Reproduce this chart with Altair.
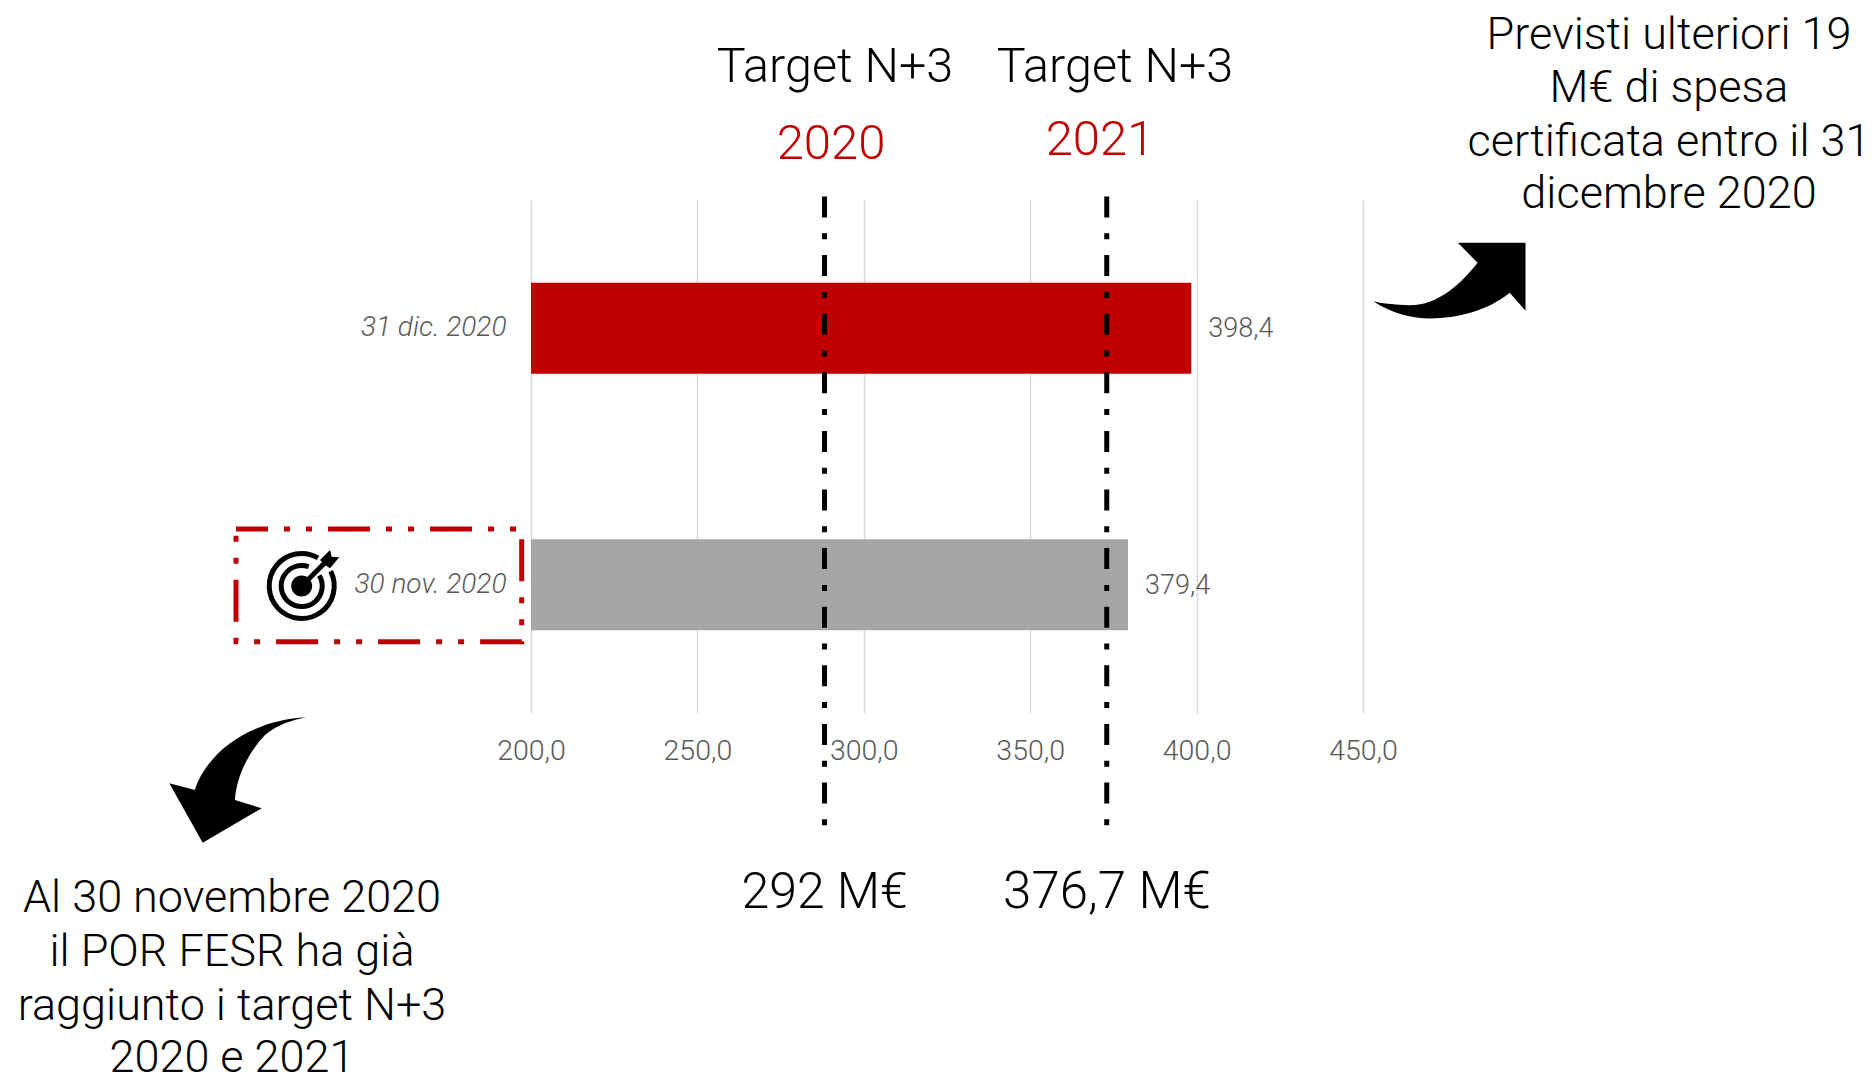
import math
import altair as alt
import pandas as pd

# ---- data ----
DATES = ["31 dic. 2020", "30 nov. 2020"]
VALUES = [398.4, 379.4]
VALUE_LABELS = ["398,4", "379,4"]
BAR_COLORS = ["#c00000", "#a6a6a6"]
TARGET_POSITIONS = [288.2, 373.0]
TARGET_YEARS = ["2020", "2021"]
TARGET_AMOUNTS = ["292 M€", "376,7 M€"]
TARGET_TITLE = "Target N+3"
NOTE_RIGHT = ["Previsti ulteriori 19", "M€ di spesa", "certificata entro il 31", "dicembre 2020"]
NOTE_LEFT = ["Al 30 novembre 2020", "il POR FESR ha già", "raggiunto i target N+3", "2020 e 2021"]

W, H = 832, 513
LEFT, TOP = 523, 192
OX, OY = LEFT + 8, TOP + 8   # page position of plot origin
BIG = "Roboto"
UI = "Roboto"
RED = "#c00000"
GREY = "#595959"

df = pd.DataFrame({"date": DATES, "value": VALUES, "label": VALUE_LABELS, "color": BAR_COLORS})
targets = pd.DataFrame({"pos": TARGET_POSITIONS})

xscale = alt.Scale(domain=[200, 450], nice=False, zero=False)
yscale = alt.Scale(domain=DATES, paddingInner=0.645, paddingOuter=0.3225)


def blank():
    return alt.Chart(alt.Data(values=[{"a": 1}]))


def txt(s, px, py, size, color="black", font=BIG, weight=300):
    return blank().mark_text(
        text=s, font=font, fontSize=size, color=color, fontWeight=weight,
        align="center", baseline="middle",
    ).encode(x=alt.value(px - OX), y=alt.value(py - OY))


def shape(path, px=OX, py=OY, filled=True, sw=0):
    return blank().mark_point(
        shape=path, size=4, filled=filled, opacity=1, strokeWidth=sw,
        color="black", strokeCap="butt",
    ).encode(x=alt.value(px - OX), y=alt.value(py - OY))


def arc_path(r, a0, a1):
    """Stroke path of a circle arc, angles clockwise from north in degrees."""
    p0 = (r * math.sin(math.radians(a0)), -r * math.cos(math.radians(a0)))
    p1 = (r * math.sin(math.radians(a1)), -r * math.cos(math.radians(a1)))
    large = 1 if (a1 - a0) % 360 > 180 else 0
    return f"M{p0[0]:.2f} {p0[1]:.2f} A{r} {r} 0 {large} 1 {p1[0]:.2f} {p1[1]:.2f}"


def page_path(d):
    """Shift a path given in page pixels to plot-origin relative pixels."""
    out, is_x = [], True
    for tok in d.split():
        head = ""
        if tok[0].isalpha():
            head, tok = tok[0], tok[1:]
        if tok == "":
            out.append(head)
            continue
        v = float(tok) - (OX if is_x else OY)
        out.append(f"{head}{v:.1f}")
        is_x = not is_x
    return " ".join(out)


ARROW_UP = page_path(
    "M1373 301 C1395 316 1420 320 1440 318 C1470 316 1495 305 1509.7 292.7 L1525.5 310.7 "
    "L1525.5 242.7 L1457.8 242.7 L1477.6 262.7 C1460 285 1435 308 1405 305 C1392 304 1382 304 1373 301 Z"
)
ARROW_DOWN = page_path(
    "M306 717.3 C270 719 230 735 208 765 C202 773 197 782 195 790 L169.3 783.3 L202.7 842.7 "
    "L261.7 808.3 L235 800 C236 780 246 755 265 735 C277 725 292 720 306 717.3 Z"
)

base = alt.Chart(df)

bars = base.mark_bar(clip=True).encode(
    x=alt.X(
        "value:Q", scale=xscale,
        axis=alt.Axis(
            values=[200, 250, 300, 350, 400, 450], title=None, domain=False, ticks=False,
            grid=True, gridColor="#d9d9d9", gridWidth=1.5,
            labelExpr="replace(format(datum.value, '.1f'), '.', ',')",
            labelFont=UI, labelFontWeight=300, labelFontSize=28.5, labelColor=GREY,
            labelPadding=23, labelFlush=False, labelOverlap=False, labelBaseline="top",
        ),
    ),
    y=alt.Y(
        "date:N", scale=yscale, sort=DATES,
        axis=alt.Axis(
            title=None, domain=False, ticks=False, grid=False, labelFont=UI,
            labelFontStyle="italic", labelFontWeight=300, labelFontSize=28, labelColor=GREY,
            labelPadding=25,
        ),
    ),
    color=alt.Color("color:N", scale=None, legend=None),
)

value_labels = base.mark_text(
    align="left", baseline="middle", dx=17, dy=1, font=UI, fontWeight=300, fontSize=27, color=GREY
).encode(
    x=alt.X("value:Q", scale=xscale),
    y=alt.Y("date:N", scale=yscale, sort=DATES),
    text="label:N",
)

target_rules = alt.Chart(targets).mark_rule(
    color="black", strokeWidth=5, strokeDash=[21, 15.8, 6, 15.8]
).encode(
    x=alt.X("pos:Q", scale=xscale),
    y=alt.value(196.5 - OY),
    y2=alt.value(826 - OY),
)

red_box = blank().mark_rect(
    fillOpacity=0, fill="white", stroke=RED, strokeWidth=5,
    strokeDash=[42, 16, 6, 16, 6, 16], strokeDashOffset=10,
).encode(
    x=alt.value(236 - OX), x2=alt.value(521.7 - OX),
    y=alt.value(529 - OY), y2=alt.value(641.7 - OY),
)

# target icon
CX, CY = 301.7, 586
icon_rings = " ".join([arc_path(32.5, 63, 390), arc_path(20.5, 59, 380), "M0 0 L25 -25"])
icon_solid = (
    "M-10.5 0 A10.5 10.5 0 1 1 10.5 0 A10.5 10.5 0 1 1 -10.5 0 Z "
    "M18.3 -26 L28.3 -36 L30 -29.3 L37.6 -28.7 L28.3 -17.7 L23.3 -21 Z"
)

layers = [
    bars,
    value_labels,
    target_rules,
    red_box,
    shape(ARROW_UP),
    shape(ARROW_DOWN),
    shape(icon_rings, CX, CY, filled=False, sw=5),
    shape(icon_solid, CX, CY),
    txt(TARGET_TITLE, 835, 67, 48.5),
    txt(TARGET_TITLE, 1115, 67, 48.5),
    txt(TARGET_YEARS[0], 831, 144, 49, RED),
    txt(TARGET_YEARS[1], 1100, 140, 49, RED),
    txt(TARGET_AMOUNTS[0], 824.6, 893, 50),
    txt(TARGET_AMOUNTS[1], 1107, 893, 51),
]
for line, py in zip(NOTE_RIGHT, [34.5, 87.5, 141.5, 193.5]):
    layers.append(txt(line, 1669, py, 45))
for line, py in zip(NOTE_LEFT, [898, 952, 1006, 1058]):
    layers.append(txt(line, 232, py, 45))

chart = alt.layer(*layers).properties(
    width=W, height=H,
    padding={"left": LEFT, "top": TOP, "right": 1858 - LEFT - W, "bottom": 1069 - TOP - H},
    autosize=alt.AutoSizeParams(type="none"),
).configure_view(stroke=None)

chart.save("out.html", embed_options={"renderer": "svg", "actions": False})
